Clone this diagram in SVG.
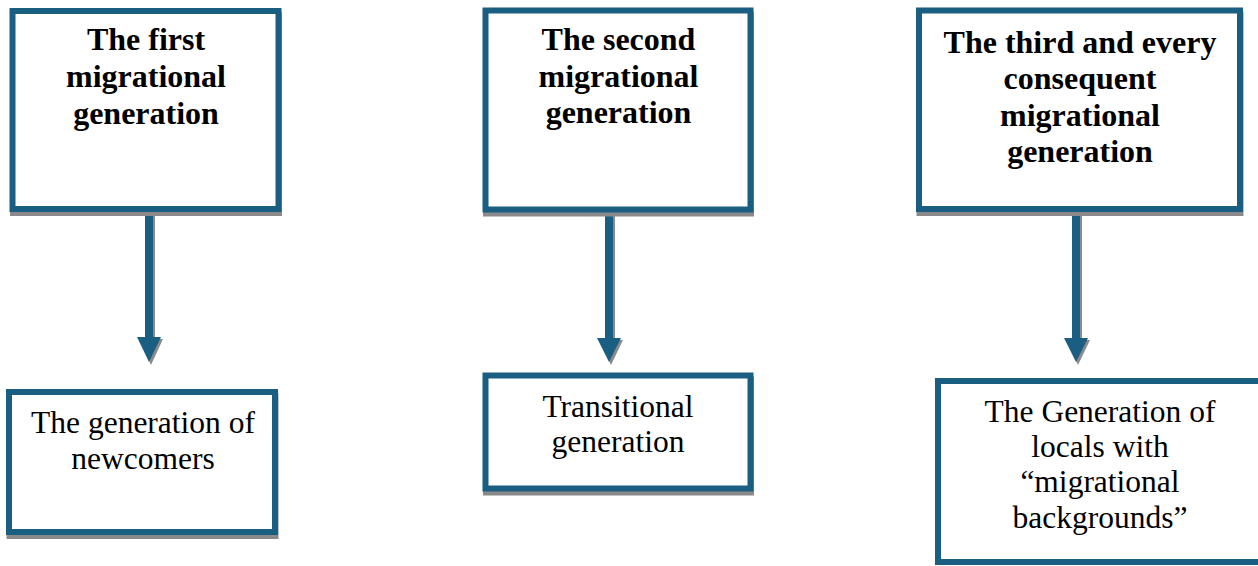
<svg xmlns="http://www.w3.org/2000/svg" width="1258" height="566" viewBox="0 0 1258 566">
<style>
.box{fill:#ffffff;stroke:#1a5f82;stroke-width:6}
.shadow{fill:none;stroke:#8a8a8a;stroke-width:6}
.t{font-family:"Liberation Serif","Times New Roman",serif;font-size:32px;font-weight:bold;fill:#000;text-anchor:middle}
.r{font-family:"Liberation Serif","Times New Roman",serif;font-size:31.5px;fill:#000;text-anchor:middle}
.arr{fill:#1a5f82}
.arrs{fill:#8a8a8a}
</style>
<rect width="1258" height="566" fill="#ffffff"/>
<g id="connectors">
  <path class="arrs" d="M147,212 H155 V339 H163 L151,365 L139,339 H147 Z"/>
  <path class="arr" d="M145,210 H153 V337 H161 L149,362 L137,337 H145 Z"/>
  <path class="arrs" d="M607,212 H615 V340 H623 L611,365 L599,340 H607 Z"/>
  <path class="arr" d="M605,210 H613 V338 H621 L609,362 L597,338 H605 Z"/>
  <path class="arrs" d="M1074,212 H1082 V340 H1090 L1078,365 L1066,340 H1074 Z"/>
  <path class="arr" d="M1072,210 H1080 V338 H1088 L1076,362 L1064,338 H1072 Z"/>
</g>
<g id="n1">
  <rect class="shadow" x="13" y="15" width="266" height="198"/>
  <rect class="box" x="12.5" y="11" width="266" height="198"/>
  <text class="t" x="146" y="50">The first</text>
  <text class="t" x="146" y="87">migrational</text>
  <text class="t" x="146" y="124">generation</text>
</g>
<g id="n2">
  <rect class="shadow" x="486" y="14.5" width="265" height="199"/>
  <rect class="box" x="485.5" y="10.5" width="265" height="199"/>
  <text class="t" x="618.5" y="50">The second</text>
  <text class="t" x="618.5" y="87">migrational</text>
  <text class="t" x="618.5" y="123">generation</text>
</g>
<g id="n3">
  <rect class="shadow" x="919.5" y="14.5" width="321" height="198.5"/>
  <rect class="box" x="919" y="10.5" width="321" height="198.5"/>
  <text class="t" x="1080" y="52.5">The third and every</text>
  <text class="t" x="1080" y="89">consequent</text>
  <text class="t" x="1080" y="125.5">migrational</text>
  <text class="t" x="1080" y="162">generation</text>
</g>
<g id="n4">
  <rect class="shadow" x="9.5" y="396" width="266" height="140"/>
  <rect class="box" x="9" y="392" width="266" height="140"/>
  <text class="r" x="143" y="433">The generation of</text>
  <text class="r" x="143" y="469">newcomers</text>
</g>
<g id="n5">
  <rect class="shadow" x="486" y="379.5" width="265" height="113"/>
  <rect class="box" x="485.5" y="375.5" width="265" height="113"/>
  <text class="r" x="618" y="417">Transitional</text>
  <text class="r" x="618" y="452">generation</text>
</g>
<g id="n6">
  <rect class="box" x="938" y="381" width="330" height="181"/>
  <text class="r" x="1100" y="422">The Generation of</text>
  <text class="r" x="1100" y="457">locals with</text>
  <text class="r" x="1100" y="492">“migrational</text>
  <text class="r" x="1100" y="528">backgrounds”</text>
</g>
</svg>
